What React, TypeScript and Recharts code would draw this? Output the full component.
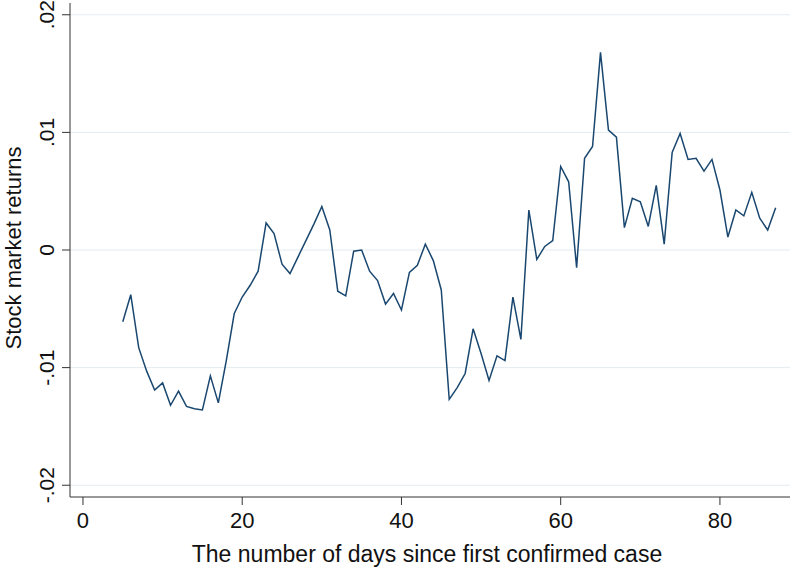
import React from "react";
import { LineChart, Line, XAxis, YAxis, CartesianGrid } from "recharts";

// days since first confirmed case
const days = [
  5, 6, 7, 8, 9, 10, 11, 12, 13, 14, 15, 16, 17, 18, 19, 20, 21, 22, 23, 24,
  25, 26, 27, 28, 29, 30, 31, 32, 33, 34, 35, 36, 37, 38, 39, 40, 41, 42, 43,
  44, 45, 46, 47, 48, 49, 50, 51, 52, 53, 54, 55, 56, 57, 58, 59, 60, 61, 62,
  63, 64, 65, 66, 67, 68, 69, 70, 71, 72, 73, 74, 75, 76, 77, 78, 79, 80, 81,
  82, 83, 84, 85, 86, 87,
];

// stock market returns
const returns = [
  -0.0061, -0.0038, -0.0083, -0.0103, -0.0119, -0.0113, -0.0132, -0.012,
  -0.0133, -0.0135, -0.0136, -0.0107, -0.013, -0.0094, -0.0054, -0.004, -0.003,
  -0.0018, 0.0023, 0.0014, -0.0012, -0.002, -0.0006, 0.0008, 0.0022, 0.0037,
  0.0017, -0.0035, -0.0039, -0.0001, 0.0, -0.0018, -0.0026, -0.0046, -0.0037,
  -0.0051, -0.0019, -0.0013, 0.0005, -0.0009, -0.0034, -0.0127, -0.0117,
  -0.0105, -0.0067, -0.0088, -0.0111, -0.009, -0.0094, -0.004, -0.0076, 0.0034,
  -0.0008, 0.0003, 0.0008, 0.0071, 0.0058, -0.0015, 0.0078, 0.0088, 0.0168,
  0.0102, 0.0096, 0.0019, 0.0044, 0.0041, 0.002, 0.0055, 0.0005, 0.0083,
  0.0099, 0.0077, 0.0078, 0.0067, 0.0077, 0.0051, 0.0011, 0.0034, 0.0029,
  0.0049, 0.0027, 0.0017, 0.0036,
];

const xTicks = [0, 20, 40, 60, 80];
const yTicks = [-0.02, -0.01, 0, 0.01, 0.02];

const data = days.map((d, i) => ({ day: d, ret: returns[i] }));

const FONT = "'Liberation Sans', Arial, Helvetica, sans-serif";
const AXIS = "#333333";

const fmtY = (v: number) => {
  if (v === 0) return "0";
  const s = Math.abs(v).toFixed(2).replace(/^0/, "");
  return v < 0 ? "-" + s : s;
};

const YTick = (props: any) => {
  const { x, y, payload } = props;
  return (
    <text
      x={x}
      y={y}
      transform={`rotate(-90 ${x} ${y})`}
      textAnchor="middle"
      fontFamily={FONT}
      fontSize={21}
      fill="#111"
    >
      {fmtY(payload.value)}
    </text>
  );
};

const XTick = (props: any) => {
  const { x, y, payload } = props;
  return (
    <text
      x={x}
      y={y + 23}
      textAnchor="middle"
      fontFamily={FONT}
      fontSize={22}
      fill="#111"
    >
      {payload.value}
    </text>
  );
};

export default function App() {
  return (
    <div style={{ position: "absolute", left: 0, top: 0, background: "#fff" }}>
      <LineChart
        width={791}
        height={568}
        data={data}
        margin={{ top: 3, right: 1, bottom: 0, left: 0 }}
      >
        <CartesianGrid
          vertical={false}
          stroke="#e3ecf1"
          strokeWidth={1}
          horizontalValues={yTicks}
        />
        <XAxis
          dataKey="day"
          type="number"
          domain={[-1.63, 88.8]}
          ticks={xTicks}
          allowDataOverflow
          height={71}
          stroke={AXIS}
          tickSize={8}
          tickMargin={0}
          tickLine={{ stroke: AXIS }}
          tick={<XTick />}
          label={{
            content: () => (
              <text
                x={427}
                y={562}
                textAnchor="middle"
                fontFamily={FONT}
                fontSize={23}
                fill="#111"
              >
                The number of days since first confirmed case
              </text>
            ),
          }}
        />
        <YAxis
          type="number"
          domain={[-0.021, 0.021]}
          ticks={yTicks}
          allowDataOverflow
          width={70}
          stroke={AXIS}
          tickSize={8}
          tickMargin={8}
          tick={<YTick />}
          label={{
            content: () => (
              <text
                x={21}
                y={248}
                transform="rotate(-90 21 248)"
                textAnchor="middle"
                fontFamily={FONT}
                fontSize={22}
                fill="#111"
              >
                Stock market returns
              </text>
            ),
          }}
        />
        <Line
          type="linear"
          dataKey="ret"
          stroke="#1a476f"
          strokeWidth={1.5}
          dot={false}
          isAnimationActive={false}
        />
      </LineChart>
    </div>
  );
}
